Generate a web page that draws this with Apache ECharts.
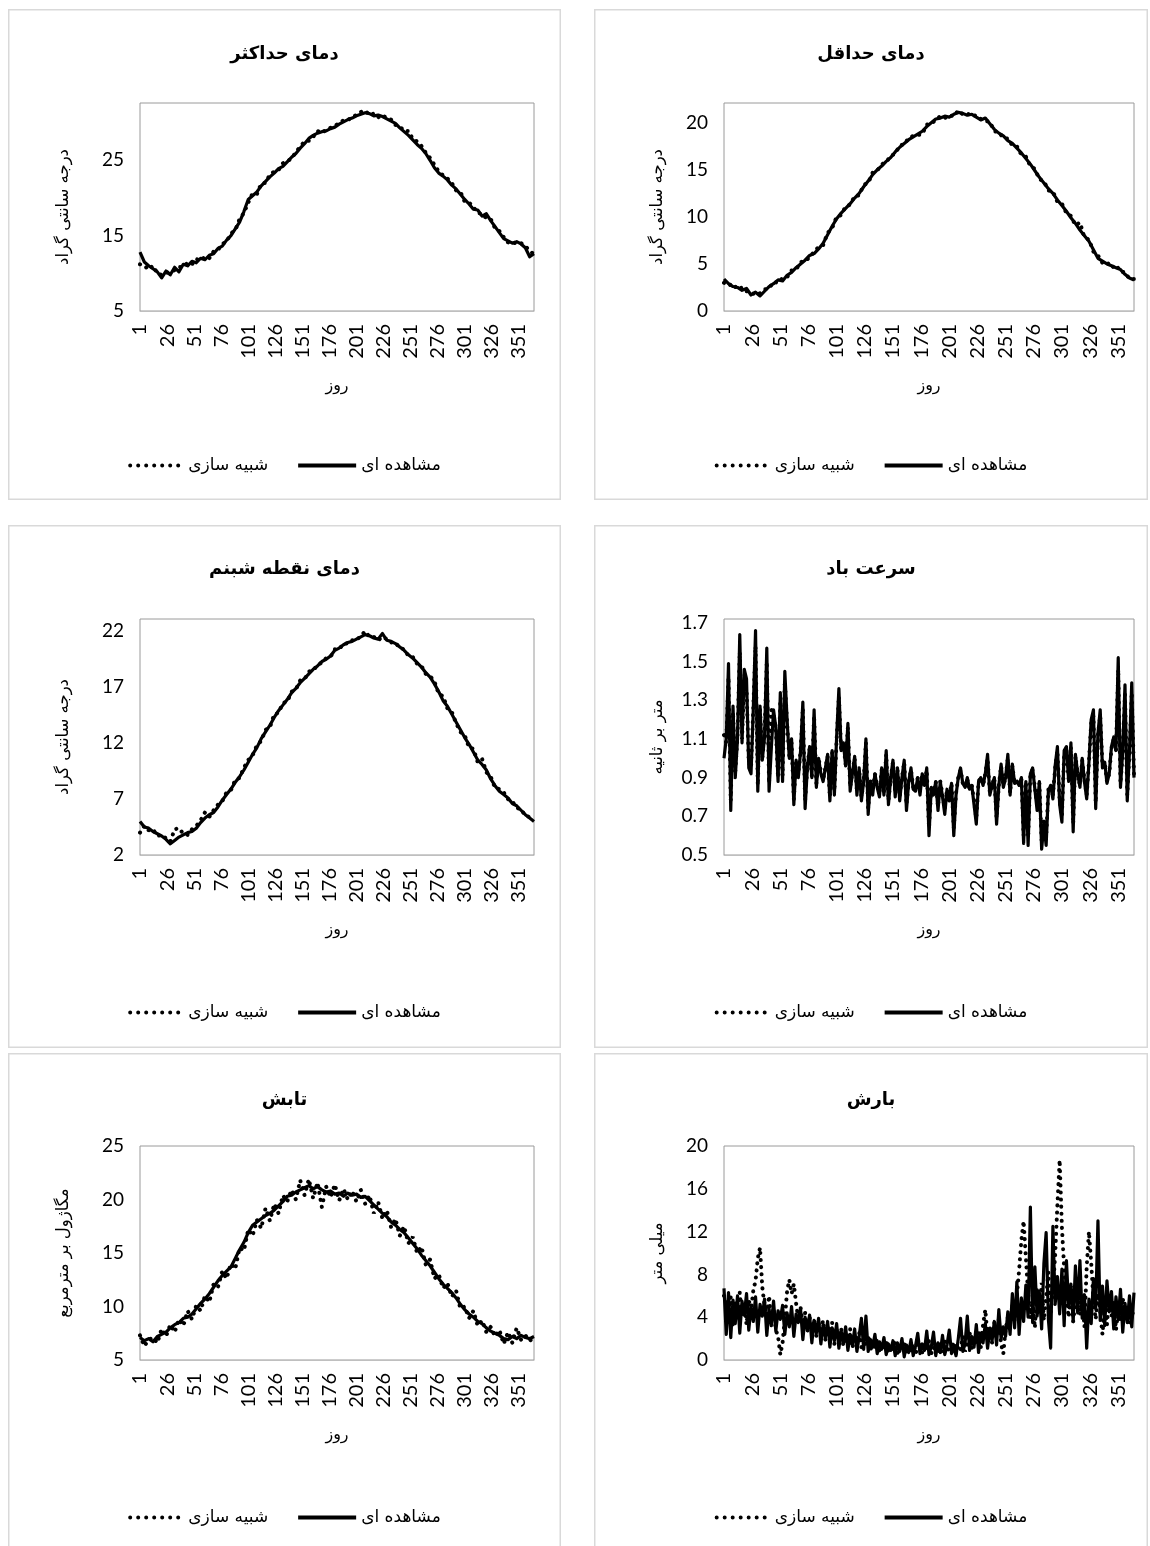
<!DOCTYPE html>
<html><head><meta charset="utf-8">
<script src="https://cdn.jsdelivr.net/npm/echarts@6/dist/echarts.min.js"></script>
<style>
html,body{margin:0;padding:0;background:#fff}
body{width:1150px;height:1546px;position:relative;overflow:hidden}
.p{position:absolute}
</style></head><body>
<div id="p1" class="p"></div><div id="p2" class="p"></div>
<div id="p3" class="p"></div><div id="p4" class="p"></div>
<div id="p5" class="p"></div><div id="p6" class="p"></div>
<script>
// ---------- DATA ----------
const dayLabels = Array.from({length: 365}, (_, i) => String(i + 1));
const obsName = 'مشاهده ای';
const simName = 'شبیه سازی';
const xName = 'روز';

// smooth series sampled every 4 days (days 1,5,...,365)
const tmaxObs = [12.8,11.5,11.0,10.6,10.2,9.4,10.3,9.8,10.8,10.2,
 11.2,11.0,11.6,11.4,12.0,11.8,12.4,12.6,13.3,13.6,
 14.4,15.0,15.9,16.8,18.2,19.8,20.3,20.8,21.6,22.2,
 22.8,23.3,23.9,24.2,24.8,25.4,25.9,26.6,27.2,27.9,
 28.3,28.6,28.8,28.9,29.2,29.4,29.8,30.1,30.4,30.6,
 30.9,31.1,31.3,31.2,30.9,31.0,30.8,30.5,30.2,29.9,
 29.3,28.8,28.3,27.7,27.1,26.6,25.9,25.0,24.0,23.3,
 22.9,22.4,21.7,21.2,20.5,19.8,19.2,18.5,18.4,17.6,
 17.9,17.0,16.2,15.4,14.6,14.3,14.0,14.2,13.9,13.4,
 12.2,12.6];
const tmaxSim = [11.2,11.0,10.5,11.0,10.0,9.8,10.0,10.3,10.4,10.8,
 10.9,11.4,11.2,11.9,11.7,12.2,12.0,12.9,13.1,13.9,
 14.2,15.3,15.7,17.2,18.0,19.4,20.6,20.5,21.9,22.0,
 23.1,23.5,23.7,24.6,24.9,25.2,26.1,26.8,27.5,27.6,
 28.1,28.9,28.6,29.1,29.3,29.6,29.9,30.3,30.3,30.8,
 31.0,31.4,31.6,31.0,31.2,30.7,31.0,30.6,30.4,29.7,
 29.5,28.9,28.9,27.8,27.5,26.9,26.0,25.3,24.4,23.5,
 23.0,22.6,22.0,21.0,20.8,19.5,19.4,18.8,18.0,17.9,
 17.3,17.2,16.0,15.6,14.8,14.1,14.2,13.9,14.0,13.6,
 13.0,12.5];

const tminObs = [3.4,2.9,2.6,2.5,2.2,2.4,1.7,2.0,1.6,2.1,
 2.6,2.9,3.3,3.2,3.8,4.1,4.6,5.0,5.4,5.9,
 6.1,6.6,7.2,8.1,9.0,9.8,10.4,10.9,11.4,12.0,
 12.5,13.2,13.8,14.5,15.0,15.4,15.9,16.3,16.9,17.4,
 17.8,18.2,18.5,18.8,19.1,19.6,20.0,20.4,20.5,20.7,
 20.6,20.9,21.1,21.0,20.8,20.9,20.6,20.3,20.5,19.9,
 19.3,18.9,18.6,18.1,17.8,17.3,16.8,16.2,15.6,14.9,
 14.2,13.6,13.0,12.5,11.8,11.2,10.6,9.9,9.3,8.6,
 8.0,7.4,6.5,5.6,5.3,5.0,4.8,4.6,4.4,3.9,
 3.5,3.3];
const tminSim = [3.0,2.7,2.9,2.3,2.5,2.1,2.0,1.7,1.9,2.3,
 2.4,3.1,3.0,3.5,3.6,4.3,4.4,5.2,5.3,5.7,
 6.3,6.8,7.0,8.3,8.8,10.0,10.2,11.1,11.3,12.2,
 12.3,13.4,13.6,14.7,14.9,15.6,15.8,16.5,16.7,17.6,
 17.7,18.4,18.6,18.7,18.8,19.8,19.9,20.3,20.7,20.5,
 20.8,20.7,21.3,20.9,21.0,20.7,20.8,20.4,20.2,20.1,
 19.1,19.0,18.4,18.3,17.6,17.5,16.6,16.4,15.4,15.1,
 14.0,13.8,12.8,12.7,11.6,11.4,10.4,10.1,9.1,9.4,
 7.8,7.6,6.3,5.9,5.1,5.2,4.6,4.9,4.2,4.1,
 3.4,3.4];

const dewObs = [5.0,4.5,4.4,4.1,3.9,3.7,3.4,3.0,3.3,3.6,
 3.8,4.0,4.1,4.4,4.9,5.3,5.6,5.8,6.3,6.9,
 7.4,7.9,8.5,9.0,9.6,10.3,11.0,11.6,12.4,13.0,
 13.6,14.3,14.9,15.4,15.9,16.5,16.9,17.4,17.8,18.2,
 18.6,18.9,19.3,19.5,19.8,20.3,20.5,20.8,21.0,21.1,
 21.3,21.5,21.7,21.6,21.4,21.3,21.8,21.2,21.1,20.9,
 20.6,20.3,19.9,19.6,19.2,18.8,18.3,17.9,17.3,16.6,
 15.8,15.3,14.6,13.9,13.2,12.5,11.9,11.2,10.5,10.1,
 9.6,8.8,8.2,7.7,7.4,7.1,6.6,6.4,6.0,5.6,
 5.3,5.0];
const dewSim = [4.0,4.6,4.2,4.3,3.7,3.8,3.5,3.2,4.3,4.4,
 3.9,3.8,4.3,4.6,5.1,5.8,5.4,6.0,6.5,6.8,
 7.6,7.8,8.7,8.9,9.8,10.5,10.9,11.8,12.2,13.2,
 13.4,14.6,14.7,15.6,15.7,16.6,16.8,17.6,17.7,18.4,
 18.5,19.0,19.2,19.6,19.7,20.4,20.4,20.9,20.9,21.2,
 21.2,21.6,22.0,21.5,21.5,21.2,21.5,21.3,21.0,21.0,
 20.5,20.4,19.8,19.7,19.1,18.9,18.2,18.0,17.5,16.4,
 16.2,15.1,14.8,13.8,13.0,12.7,11.6,11.5,10.3,10.6,
 9.4,9.0,8.0,7.9,7.6,7.0,6.8,6.2,6.1,5.5,
 5.4,5.2];

const radObs = [7.1,6.8,7.0,6.7,7.2,7.4,7.6,8.0,8.3,8.5,
 8.9,9.0,9.3,9.8,10.3,10.7,11.2,11.8,12.4,12.9,
 13.3,13.7,14.5,15.3,16.0,16.9,17.6,17.9,18.2,18.5,
 18.7,19.0,19.4,19.8,20.3,20.4,20.7,20.9,21.1,21.3,
 21.0,21.2,20.9,20.7,20.8,20.5,20.6,20.3,20.6,20.4,
 20.5,20.2,20.3,19.9,19.5,19.1,18.7,18.4,17.9,17.6,
 17.2,16.9,16.4,15.9,15.4,14.8,14.3,13.8,13.2,12.6,
 12.1,11.7,11.3,10.8,10.2,9.7,9.3,9.0,8.6,8.4,
 8.0,7.7,7.5,7.3,7.0,6.9,7.2,7.0,7.3,7.1,
 7.0,7.2];
const radSim = [7.3,6.3,6.9,7.1,6.6,7.9,7.2,8.3,7.6,8.8,
 8.2,9.6,8.8,10.1,9.6,11.0,10.4,12.1,11.8,13.3,
 12.6,14.0,13.5,15.5,15.2,17.2,16.6,18.1,17.3,19.2,
 18.0,19.6,18.7,20.4,19.8,20.9,20.0,21.8,20.4,21.9,
 20.1,21.6,19.3,21.2,20.2,21.4,19.9,21.0,20.0,20.8,
 19.8,20.9,19.6,20.4,18.7,19.8,18.2,19.0,17.4,18.2,
 16.6,17.5,15.9,16.5,15.0,15.6,13.9,14.4,12.6,13.0,
 11.7,12.2,10.9,11.5,9.8,10.0,8.9,9.6,8.2,8.7,
 7.6,8.1,7.2,7.8,6.5,7.6,6.6,8.0,6.9,7.3,
 6.8,7.1];

// noisy series sampled every 2 days (days 1,3,...,365)
const windObs = [1.00,1.10,1.49,0.73,1.27,0.90,1.10,1.64,1.08,1.46,
 1.41,0.95,0.92,1.25,1.66,0.83,1.27,0.99,1.11,1.57,
 0.83,1.05,1.25,1.16,0.88,1.34,0.88,1.45,1.20,1.00,
 1.10,0.76,0.99,0.90,1.04,1.29,0.74,0.95,1.06,0.90,
 1.25,0.85,1.00,0.92,0.88,0.95,1.02,0.78,1.04,0.81,
 1.11,1.36,1.04,1.08,0.96,1.18,0.83,0.92,1.01,0.81,
 0.95,0.78,0.88,1.10,0.71,0.88,0.81,0.92,0.85,0.80,
 0.95,0.81,1.04,0.76,0.90,0.99,0.80,0.95,0.78,0.90,
 0.99,0.73,0.88,0.95,0.84,0.83,0.90,0.81,0.92,0.86,
 0.95,0.60,0.85,0.81,0.88,0.73,0.88,0.80,0.71,0.84,
 0.78,0.87,0.60,0.81,0.90,0.95,0.87,0.85,0.90,0.84,
 0.86,0.76,0.66,0.88,0.90,0.86,0.92,1.02,0.81,0.86,
 0.90,0.66,0.86,0.97,0.85,0.90,1.02,0.81,0.97,0.87,
 0.88,0.86,0.90,0.56,0.88,0.55,0.92,0.95,0.84,0.73,
 0.88,0.53,0.66,0.55,0.83,0.86,0.79,0.96,1.06,0.76,
 0.67,1.04,1.06,0.88,1.08,0.62,1.02,0.92,0.85,1.00,
 0.88,0.79,0.98,1.20,1.25,0.74,1.13,1.25,0.95,0.98,
 0.87,0.92,1.06,1.11,1.04,1.52,0.85,1.04,1.38,0.78,
 1.04,1.39,0.90];
const windSim = [1.12,1.08,1.42,0.78,1.24,0.93,1.12,1.55,1.10,1.40,
 1.36,0.98,0.95,1.26,1.58,0.86,1.25,1.00,1.12,1.50,
 0.87,1.25,1.23,1.15,0.90,1.30,0.91,1.40,1.18,1.01,
 1.08,0.79,0.99,0.92,1.04,1.26,0.78,0.96,1.05,0.91,
 1.22,0.87,1.00,0.93,0.89,0.95,1.01,0.80,1.03,0.83,
 1.10,1.32,1.04,1.07,0.97,1.16,0.85,0.93,1.00,0.83,
 0.94,0.80,0.88,1.08,0.74,0.88,0.83,0.92,0.86,0.82,
 0.94,0.83,1.02,0.78,0.90,0.98,0.82,0.94,0.80,0.90,
 0.98,0.76,0.88,0.94,0.85,0.84,0.90,0.83,0.92,0.86,
 0.94,0.64,0.85,0.82,0.88,0.75,0.88,0.81,0.74,0.84,
 0.80,0.87,0.64,0.82,0.90,0.94,0.87,0.85,0.89,0.84,
 0.86,0.78,0.69,0.88,0.90,0.86,0.92,1.00,0.82,0.86,
 0.90,0.69,0.86,0.96,0.86,0.90,1.00,0.82,0.96,0.87,
 0.88,0.86,0.90,0.60,0.88,0.59,0.92,0.94,0.85,0.76,
 0.87,0.57,0.69,0.59,0.84,0.86,0.81,0.95,1.04,0.78,
 0.70,1.02,1.04,0.89,1.06,0.66,1.01,0.92,0.86,0.99,
 0.89,0.81,0.98,1.18,1.22,0.77,1.12,1.22,0.96,0.98,
 0.88,0.92,1.05,1.10,1.04,1.46,0.87,1.03,1.33,0.81,
 1.03,1.34,0.91];

const rainObs = [6.7,2.4,6.3,2.1,5.6,3.4,6.0,2.5,5.5,4.2,
 6.2,2.8,5.0,3.6,5.9,2.6,5.2,4.1,5.7,2.3,
 4.8,3.2,5.5,2.7,4.6,3.8,5.1,2.4,4.4,3.1,
 5.0,2.2,4.3,3.5,4.7,1.9,4.0,2.8,4.2,1.6,
 3.7,2.5,3.9,1.5,3.3,2.1,3.6,1.2,3.0,1.8,
 3.4,1.1,2.7,1.6,3.1,0.9,2.4,1.4,2.9,0.8,
 2.2,3.9,1.0,4.1,0.8,1.9,1.2,2.4,0.6,1.7,
 1.0,2.1,0.5,1.5,0.9,1.8,0.4,1.6,0.8,2.0,
 0.3,1.4,0.7,1.9,0.4,1.3,2.5,0.6,1.5,0.9,
 2.7,0.5,1.2,2.6,0.4,1.6,0.7,2.3,0.5,1.4,
 2.8,0.6,1.2,0.4,2.0,3.9,0.8,1.5,4.1,0.9,
 2.2,1.2,3.3,0.7,2.5,1.6,3.4,1.1,2.9,1.8,
 3.6,1.4,4.7,2.0,3.1,2.2,4.5,2.4,6.2,3.0,
 7.3,2.4,5.8,3.6,7.0,4.0,14.3,3.5,8.7,4.1,
 6.3,2.9,9.0,11.9,3.8,1.1,12.5,5.2,7.8,4.3,
 8.5,3.2,9.3,5.0,7.1,3.6,8.8,4.4,9.3,3.9,
 6.1,1.1,5.7,3.4,7.6,4.8,13.0,3.7,6.9,3.2,
 7.4,4.5,6.4,2.9,5.9,3.8,6.6,2.6,5.3,3.5,
 6.0,3.1,6.3];
const rainSim = [6.0,5.7,4.3,5.9,3.1,5.4,3.8,6.3,4.0,5.2,
 3.3,5.6,4.6,6.5,7.4,9.5,10.5,6.8,5.1,4.2,
 6.0,3.5,4.9,2.8,2.2,0.5,1.6,3.9,6.4,7.5,
 6.2,7.1,5.3,3.8,4.9,3.3,4.4,2.6,4.0,3.0,
 3.8,2.2,3.4,2.8,3.7,1.9,3.1,2.3,3.5,1.5,
 2.8,2.0,3.0,1.3,2.5,1.8,2.9,1.1,2.2,1.6,
 2.6,1.2,2.0,1.4,2.3,0.9,1.8,1.2,2.0,0.8,
 1.6,1.1,1.9,0.7,1.4,1.0,1.7,0.6,1.3,0.9,
 1.6,0.5,1.2,0.8,1.5,0.6,1.1,1.7,0.7,1.3,
 0.9,1.8,0.6,1.2,0.8,1.6,0.5,1.1,1.9,0.7,
 1.3,0.9,1.7,0.6,1.4,1.0,2.2,0.8,1.6,2.6,
 1.1,2.0,1.4,2.8,1.2,3.3,4.7,2.1,3.1,1.6,
 3.5,2.3,3.8,1.5,0.6,2.9,4.0,3.3,5.1,3.6,
 6.0,8.4,11.2,13.0,9.6,6.2,3.9,5.6,3.0,6.8,
 4.5,7.2,3.7,5.9,8.2,4.4,6.5,9.8,14.5,18.7,
 12.4,8.6,5.8,4.0,6.9,3.6,5.4,7.8,4.2,6.0,
 3.1,8.7,12.0,9.1,5.5,3.8,6.2,4.5,2.4,5.1,
 3.3,6.0,4.1,5.4,2.8,4.7,3.6,5.8,4.2,5.0,
 3.4,4.6,4.0];

// ---------- CHART CONFIG ----------
const panels = [
  {id:'p1', col:0, row:0, title:'دمای حداکثر', yName:'درجه سانتی گراد', min:5, max:32.6, interval:10, dec:0, showMax:false, obs:tmaxObs, sim:tmaxSim, step:4},
  {id:'p2', col:1, row:0, title:'دمای حداقل', yName:'درجه سانتی گراد', min:0, max:22.1, interval:5, dec:0, showMax:false, obs:tminObs, sim:tminSim, step:4},
  {id:'p3', col:0, row:1, title:'دمای نقطه شبنم', yName:'درجه سانتی گراد', min:2, max:23.1, interval:5, dec:0, showMax:false, obs:dewObs, sim:dewSim, step:4},
  {id:'p4', col:1, row:1, title:'سرعت باد', yName:'متر بر ثانیه', min:0.5, max:1.72, interval:0.2, dec:1, showMax:false, obs:windObs, sim:windSim, step:2},
  {id:'p5', col:0, row:2, title:'تابش', yName:'مگاژول بر مترمربع', min:5, max:25, interval:5, dec:0, showMax:true, obs:radObs, sim:radSim, step:4},
  {id:'p6', col:1, row:2, title:'بارش', yName:'میلی متر', min:0, max:20, interval:4, dec:0, showMax:true, obs:rainObs, sim:rainSim, step:2}
];
const cols = [
  {x:8, w:553, gl:132, gw:394, nameGap:68},
  {x:594, w:554, gl:130, gw:410, nameGap:58}
];
const rows = [
  {y:9, h:491, gt:94, gh:208, titleTop:31, legTop:443},
  {y:525, h:523, gt:94, gh:236, titleTop:30, legTop:474},
  {y:1053, h:500, gt:93, gh:214, titleTop:33, legTop:451}
];

const NUM_FONT = "Lato, 'DejaVu Sans', sans-serif";
const AR_FONT = "'DejaVu Sans', sans-serif";

function dotsPath() {
  let d = '';
  for (let k = 0; k < 7; k++) {
    const cx = 2 + k * 8;
    d += 'M' + (cx - 2) + ',2a2,2 0 1,0 4,0a2,2 0 1,0 -4,0Z';
  }
  return 'path://' + d;
}

function toPairs(vals, step) { return vals.map((v, i) => [i * step, v]); }

panels.forEach(p => {
  const c = cols[p.col], r = rows[p.row];
  const el = document.getElementById(p.id);
  el.style.left = c.x + 'px'; el.style.top = r.y + 'px';
  el.style.width = c.w + 'px'; el.style.height = r.h + 'px';
  const chart = echarts.init(el, null, {renderer: 'canvas'});
  chart.setOption({
    animation: false,
    textStyle: {fontFamily: NUM_FONT, color: '#000'},
    graphic: {elements: [{type: 'rect', silent: true, shape: {x: 0.75, y: 0.75, width: c.w - 1.5, height: r.h - 1.5}, style: {fill: null, stroke: '#d9d9d9', lineWidth: 1.5}}]},
    title: {text: p.title, left: 'center', top: r.titleTop, textStyle: {fontFamily: AR_FONT, fontWeight: 'bold', fontSize: 18, color: '#000'}},
    legend: {
      left: 'center', top: r.legTop, itemWidth: 58, itemHeight: 4, itemGap: 30,
      textStyle: {fontFamily: AR_FONT, fontSize: 17, color: '#000'},
      data: [{name: simName, icon: dotsPath()}, {name: obsName, icon: 'path://M0,0H60V4H0Z'}]
    },
    grid: {left: c.gl, top: r.gt, width: c.gw, height: r.gh, show: true, borderColor: '#9a9a9a', borderWidth: 1},
    xAxis: {
      type: 'category', data: dayLabels, boundaryGap: false,
      axisLine: {show: true, lineStyle: {color: '#bfbfbf', width: 1}},
      axisTick: {show: false},
      axisLabel: {interval: 24, rotate: 90, fontSize: 20, margin: 13, color: '#000', fontFamily: NUM_FONT},
      splitLine: {show: false},
      name: xName, nameLocation: 'middle', nameGap: 67,
      nameTextStyle: {fontFamily: AR_FONT, fontSize: 16, color: '#000'}
    },
    yAxis: {
      type: 'value', min: p.min, max: p.max, interval: p.interval,
      axisLine: {show: false}, axisTick: {show: false}, splitLine: {show: false},
      axisLabel: {fontSize: 19, margin: 16, color: '#000', fontFamily: NUM_FONT, showMaxLabel: p.showMax,
        formatter: v => Number(v).toFixed(p.dec)},
      name: p.yName, nameLocation: 'middle', nameGap: c.nameGap,
      nameTextStyle: {fontFamily: AR_FONT, fontSize: 16.5, color: '#000'}
    },
    series: [
      {name: obsName, type: 'line', data: toPairs(p.obs, p.step), symbol: 'none', smooth: false,
       color: '#000', lineStyle: {color: '#000', width: 3.2, join: 'round'}, z: 2},
      {name: simName, type: 'line', data: toPairs(p.sim, p.step), symbol: 'none', smooth: false,
       color: '#000', lineStyle: {color: '#000', width: 4, type: [0.1, 7], cap: 'round'}, z: 3}
    ]
  });
});
</script>
</body></html>
